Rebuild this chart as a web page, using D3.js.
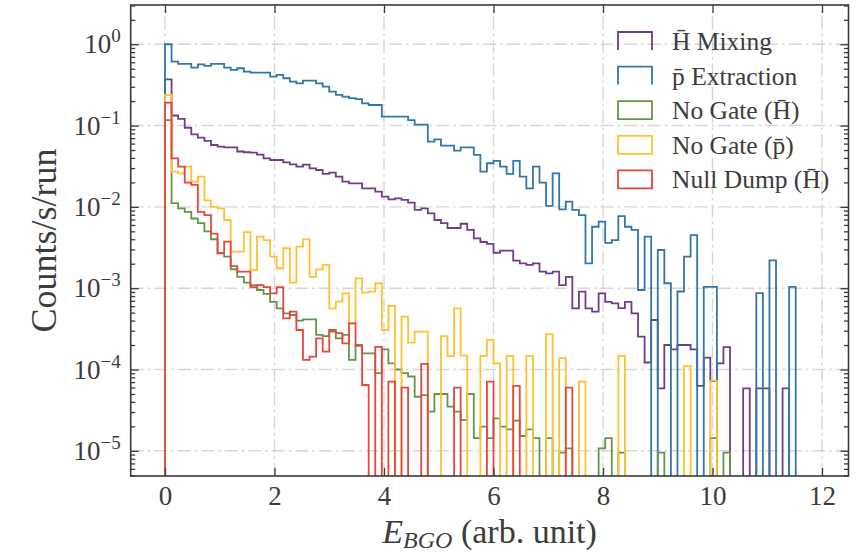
<!DOCTYPE html>
<html>
<head>
<meta charset="utf-8">
<script src="https://cdn.jsdelivr.net/npm/d3@7"></script>
<style>
  body { margin: 0; background: #ffffff; }
  svg text { font-family: "Liberation Serif", "Times New Roman", serif; fill: #3c3c3c; }
</style>
</head>
<body>
<svg id="chart" width="861" height="553"></svg>
<script>
// Histogram binning: 100 bins of width 0.12 starting at 0
const binStart = 0;
const binWidth = 0.12;

// Counts/s/run per bin for each data set (0 = empty bin)
const hbarMixing = [
  0.371, 0.133, 0.121, 0.094, 0.078, 0.071, 0.065, 0.0577, 0.055, 0.054,
  0.054, 0.048, 0.047, 0.0464, 0.044, 0.0396, 0.0377, 0.0377, 0.0353, 0.0334,
  0.0312, 0.033, 0.0298, 0.0284, 0.0254, 0.0264, 0.0235, 0.0204, 0.0195, 0.0195,
  0.0169, 0.0169, 0.0154, 0.0134, 0.0124, 0.0127, 0.0122, 0.0113, 0.0092, 0.0096,
  0.0083, 0.0069, 0.0063, 0.0055, 0.0055, 0.0062, 0.0052, 0.0041, 0.0037, 0.0035,
  0.00273, 0.00289, 0.00289, 0.00218, 0.00202, 0.00193, 0.00202, 0.0016, 0.00152, 0.0016,
  0.00109, 0.00138, 0.000566, 0.000906, 0.000566, 0.000514, 0.000865, 0.00068, 0.00065, 0.00057,
  0.00068, 0.00049, 0.000253, 0.000122, 0.000406, 5.87e-5, 0.0002, 0.000177, 0.0002, 0.0002,
  0.000177, 6.3e-5, 0.00014, 7.2e-5, 0.000119, 0.000188, 0, 0, 5.87e-5, 0,
  5.87e-5, 5.87e-5, 0, 0, 5.87e-5, 0, 0, 0, 0, 0
];
const pbarExtraction = [
  1.0, 0.61, 0.573, 0.573, 0.515, 0.567, 0.541, 0.573, 0.573, 0.515,
  0.483, 0.507, 0.46, 0.448, 0.448, 0.448, 0.40, 0.42, 0.382, 0.347,
  0.331, 0.357, 0.357, 0.331, 0.301, 0.261, 0.238, 0.227, 0.217, 0.212,
  0.188, 0.179, 0.179, 0.129, 0.129, 0.129, 0.129, 0.117, 0.103, 0.103,
  0.0634, 0.0678, 0.0566, 0.0566, 0.0491, 0.054, 0.054, 0.0435, 0.0271, 0.0344,
  0.0367, 0.0312, 0.0254, 0.0367, 0.0235, 0.0169, 0.0312, 0.0199, 0.0103, 0.0259,
  0.0093, 0.0116, 0.0092, 0.0079, 0.00202, 0.0057, 0.0066, 0.0036, 0.0039, 0.0077,
  0.0057, 0.0052, 0.00095, 0.0043, 0, 0.00295, 0.00115, 0, 0.00091, 0.00245,
  0.0045, 0, 0.00104, 0.00104, 0, 0, 0, 0, 0, 0,
  0.00087, 0, 0.0022, 0, 0, 0.00104, 0, 0, 0, 0
];
const noGateHbar = [
  0.117, 0.0111, 0.0096, 0.0087, 0.0072, 0.0063, 0.0050, 0.0040, 0.0027, 0.00244,
  0.00171, 0.00138, 0.00117, 0.00109, 0.00095, 0.00085, 0.00068, 0.000566, 0.00049, 0.000468,
  0.000398, 0.000414, 0.000414, 0.000266, 0.000258, 0.000292, 0.000242, 0.000266, 0.000131, 0.0002,
  0.000158, 0.000158, 9.0e-5, 0.000177, 0.000119, 0.0001, 9.0e-5, 8.2e-5, 4.62e-5, 4.85e-5,
  3.03e-5, 5.0e-5, 5.0e-5, 3.5e-5, 3.03e-5, 2.39e-5, 5.0e-5, 1.43e-5, 1.98e-5, 1.43e-5,
  2.51e-5, 1.98e-5, 1.84e-5, 2.35e-5, 1.52e-5, 1.84e-5, 1.43e-5, 0, 1.43e-5, 0,
  9.5e-6, 1.07e-5, 0, 0, 0, 0, 1.07e-5, 1.43e-5, 0, 9.5e-6,
  0, 0, 0, 0, 0, 9.5e-6, 0, 0, 0, 0,
  0, 0, 0, 1.43e-5, 0, 9.5e-6, 0, 0, 0, 0,
  0, 0, 0, 0, 0, 0, 0, 0, 0, 0
];
const noGatePbar = [
  0.238, 0.0271, 0.0259, 0.0312, 0.0204, 0.0235, 0.012, 0.010, 0.0096, 0.0069,
  0.00281, 0.00281, 0.0049, 0.00167, 0.0043, 0.0039, 0.00244, 0.00176, 0.0031, 0.00117,
  0.00324, 0.00399, 0.00138, 0.0017, 0.00193, 0.000566, 0.000682, 0.000865, 0.00037, 0.00132,
  0.00088, 0.000906, 0.00115, 0.000306, 0.000604, 0, 0.000446, 0.000214, 0.000292, 0.000292,
  0, 0, 0.000258, 0.000146, 0.000566, 0.000148, 0, 0, 0.000147, 0.000231,
  0.000119, 0, 0.000147, 0, 0, 0.000147, 0, 0, 0.000273, 0,
  0.000138, 0, 0, 7.1e-5, 0, 0, 0, 0, 0, 0.000147,
  0, 0, 0, 0, 0, 0, 0, 0, 0, 0.00011,
  0, 0, 0, 7.3e-5, 0, 0, 0, 0, 0, 0,
  0, 0, 0, 0, 0, 0, 0, 0, 0, 0
];
const nullDumpHbar = [
  0.191, 0.0396, 0.0312, 0.0199, 0.0186, 0.0087, 0.0079, 0.0047, 0.00269, 0.00373,
  0.00187, 0.0016, 0.0016, 0.00103, 0.00109, 0.00103, 0.000865, 0.00103, 0.000426, 0.000514,
  0.000306, 0.000131, 0.000144, 0.000242, 0.000166, 0.000306, 0.00028, 0.00021, 0.00037, 0.000195,
  6.45e-5, 0, 0.00019, 0, 7.1e-5, 0, 6.0e-5, 0, 0, 0.000117,
  0, 0, 0, 0, 6.0e-5, 0, 0, 0, 0, 7.1e-5,
  0, 0, 0, 6.3e-5, 0, 0, 0, 0, 0, 0,
  0, 6.0e-5, 0, 0, 0, 0, 0, 0, 0, 0,
  0, 0, 0, 0, 0, 0, 0, 0, 0, 0,
  0, 0, 0, 0, 0, 0, 0, 0, 0, 0,
  0, 0, 0, 0, 0, 0, 0, 0, 0, 0
];

const seriesLabels = ["H\u0304 Mixing", "p\u0304 Extraction", "No Gate (H\u0304)", "No Gate (p\u0304)", "Null Dump (H\u0304)"];
const seriesColors = ["#6e3f86", "#3476a8", "#66954a", "#ffc22e", "#e5473f"];
const seriesValues = [hbarMixing, pbarExtraction, noGateHbar, noGatePbar, nullDumpHbar];
// the first two legend keys are drawn open at the bottom
const seriesOpenKey = [true, true, false, false, false];

const xTickValues = [0, 2, 4, 6, 8, 10, 12];
const yTickExponents = [0, -1, -2, -3, -4, -5];

// ---------------------------------------------------------------
const W = 861, H = 553;
const plot = { left: 130.7, right: 848.5, top: 5, bottom: 476 };

const svg = d3.select("#chart");

const x = d3.scaleLinear().domain([-0.6265, 12.484]).range([plot.left, plot.right]);
const y = d3.scaleLog().domain([4.9e-6, 3.04]).range([plot.bottom, plot.top]);

svg.append("defs").append("clipPath").attr("id", "plotClip")
  .append("rect")
  .attr("x", plot.left).attr("y", plot.top)
  .attr("width", plot.right - plot.left).attr("height", plot.bottom - plot.top);

// dash-dot grid
const gGrid = svg.append("g").attr("clip-path", "url(#plotClip)")
  .attr("stroke", "#d6d6d6").attr("stroke-width", 1.4).attr("stroke-dasharray", "13,4,2.5,4");
xTickValues.forEach(t => {
  gGrid.append("line").attr("x1", x(t)).attr("x2", x(t)).attr("y1", plot.bottom).attr("y2", plot.top);
});
yTickExponents.forEach(e => {
  gGrid.append("line").attr("x1", plot.left).attr("x2", plot.right).attr("y1", y(Math.pow(10, e))).attr("y2", y(Math.pow(10, e)));
});

const gPlot = svg.append("g").attr("clip-path", "url(#plotClip)");

// step outline of a histogram; empty bins drop below the axis
function stepPoints(values) {
  const yLow = plot.bottom + 10;
  const pts = [[x(binStart), yLow]];
  values.forEach((v, i) => {
    const yv = v > 0 ? y(v) : yLow;
    pts.push([x(binStart + i * binWidth), yv]);
    pts.push([x(binStart + (i + 1) * binWidth), yv]);
  });
  pts.push([x(binStart + values.length * binWidth), yLow]);
  return pts;
}

const line = d3.line();
seriesValues.forEach((vals, k) => {
  gPlot.append("path")
    .attr("d", line(stepPoints(vals)))
    .attr("fill", "none")
    .attr("stroke", seriesColors[k])
    .attr("stroke-width", 1.8)
    .attr("stroke-linejoin", "miter");
});

// axes with inward ticks on every side
const tickColor = "#3a3a3a";
const majorLen = 8, minorLen = 4.5;

const xAxisBottom = d3.axisBottom(x).tickValues(xTickValues).tickSizeInner(-majorLen).tickSizeOuter(0).tickPadding(10).tickFormat(d3.format("d"));
const xAxisTop = d3.axisTop(x).tickValues(xTickValues).tickSizeInner(-majorLen).tickSizeOuter(0).tickFormat("");

const yMinor = [];
for (let e = -6; e <= 0; e++) {
  for (let m = 2; m <= 9; m++) {
    const v = m * Math.pow(10, e);
    if (v > y.domain()[0] && v < y.domain()[1]) yMinor.push(v);
  }
}
const yMajor = yTickExponents.map(e => Math.pow(10, e));

const gxb = svg.append("g").attr("transform", `translate(0,${plot.bottom})`).call(xAxisBottom);
const gxt = svg.append("g").attr("transform", `translate(0,${plot.top})`).call(xAxisTop);

const gyl = svg.append("g").attr("transform", `translate(${plot.left},0)`)
  .call(d3.axisLeft(y).tickValues(yMajor).tickSizeInner(-majorLen).tickSizeOuter(0).tickFormat(""));
const gylm = svg.append("g").attr("transform", `translate(${plot.left},0)`)
  .call(d3.axisLeft(y).tickValues(yMinor).tickSizeInner(-minorLen).tickSizeOuter(0).tickFormat(""));
const gyr = svg.append("g").attr("transform", `translate(${plot.right},0)`)
  .call(d3.axisRight(y).tickValues(yMajor).tickSizeInner(-majorLen).tickSizeOuter(0).tickFormat(""));
const gyrm = svg.append("g").attr("transform", `translate(${plot.right},0)`)
  .call(d3.axisRight(y).tickValues(yMinor).tickSizeInner(-minorLen).tickSizeOuter(0).tickFormat(""));

[gxb, gxt, gyl, gylm, gyr, gyrm].forEach(g => {
  g.select(".domain").remove();
  g.selectAll(".tick line").attr("stroke", tickColor).attr("stroke-width", 1.3);
});
gxb.selectAll(".tick text")
  .attr("font-size", 27).attr("fill", "#3c3c3c")
  .style("font-family", '"Liberation Serif", serif');

// y tick labels as powers of ten
const gyLabels = svg.append("g");
yMajor.forEach((v, i) => {
  const e = yTickExponents[i];
  const t = gyLabels.append("text")
    .attr("x", plot.left - 10).attr("y", y(v) + 9)
    .attr("text-anchor", "end").attr("font-size", 27);
  t.append("tspan").text("10");
  t.append("tspan").attr("dy", -11).attr("font-size", 19).text(e === 0 ? "0" : "\u2212" + Math.abs(e));
});

// frame
svg.append("rect")
  .attr("x", plot.left).attr("y", plot.top)
  .attr("width", plot.right - plot.left).attr("height", plot.bottom - plot.top)
  .attr("fill", "none").attr("stroke", "#3a3a3a").attr("stroke-width", 1.6);

// axis titles
const xTitle = svg.append("text")
  .attr("x", (plot.left + plot.right) / 2).attr("y", 542.5)
  .attr("text-anchor", "middle").attr("font-size", 34);
xTitle.append("tspan").attr("font-style", "italic").text("E");
xTitle.append("tspan").attr("font-style", "italic").attr("font-size", 24).attr("dy", 5).text("BGO");
xTitle.append("tspan").attr("dy", -5).text(" (arb. unit)");

svg.append("text")
  .attr("transform", `translate(56,${(plot.top + plot.bottom) / 2}) rotate(-90)`)
  .attr("text-anchor", "middle").attr("font-size", 36)
  .text("Counts/s/run");

// legend
const legend = svg.append("g");
const keyX = 618, keyW = 34, keyH = 18, rowGap = 34.6, firstRow = 41;
seriesLabels.forEach((lab, k) => {
  const cy = firstRow + k * rowGap;
  const x0 = keyX, x1 = keyX + keyW, y0 = cy - keyH / 2, y1 = cy + keyH / 2;
  const d = seriesOpenKey[k]
    ? `M${x0},${y1}L${x0},${y0}L${x1},${y0}L${x1},${y1}`
    : `M${x0},${y0}L${x1},${y0}L${x1},${y1}L${x0},${y1}Z`;
  legend.append("path").attr("d", d).attr("fill", "none")
    .attr("stroke", seriesColors[k]).attr("stroke-width", 1.8);
  legend.append("text").attr("x", 672).attr("y", cy + 9)
    .attr("font-size", 25.5).text(lab);
});
</script>
</body>
</html>
